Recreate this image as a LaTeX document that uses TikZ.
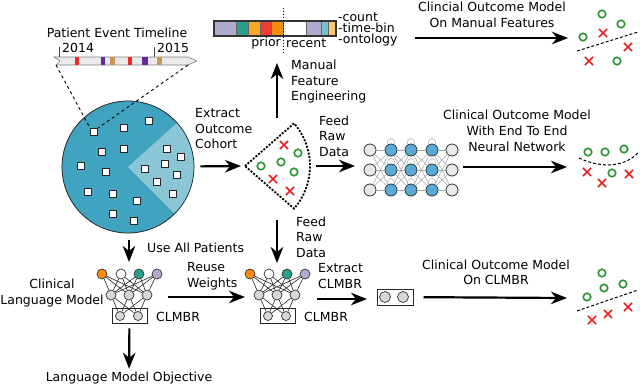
\documentclass[tikz,border=0pt]{standalone}
\usepackage{fontspec}
\setmainfont{DejaVu Sans}
\usepackage{xcolor}
\usetikzlibrary{arrows.meta, positioning, shapes.misc}

\definecolor{popteal}{RGB}{64,164,192}
\definecolor{cohortblue}{RGB}{138,198,214}
\definecolor{tlgray}{RGB}{234,234,234}
\definecolor{evred}{RGB}{240,40,40}
\definecolor{evpurple}{RGB}{100,40,160}
\definecolor{evtan}{RGB}{200,150,90}
\definecolor{fblav}{RGB}{176,170,208}
\definecolor{fbteal}{RGB}{42,160,140}
\definecolor{fbamber}{RGB}{250,170,40}
\definecolor{fbred}{RGB}{240,60,50}
\definecolor{fborange}{RGB}{245,140,20}
\definecolor{fbblue}{RGB}{120,190,205}
\definecolor{fbsand}{RGB}{250,200,110}
\definecolor{nnblue}{RGB}{90,170,215}
\definecolor{nngray}{RGB}{232,232,232}
\definecolor{lmgray}{RGB}{215,215,215}
\definecolor{markgreen}{RGB}{40,150,50}
\definecolor{markred}{RGB}{235,30,30}

\tikzset{
  txt/.style={font=\fontsize{12.5}{15.5}\selectfont, inner sep=0pt, align=left},
  flow/.style={line width=2.2pt, -{Stealth[length=16pt, width=12.5pt, inset=5pt]}},
  patient/.style={draw=black!85, fill=white, line width=1pt, minimum size=7pt, inner sep=0pt},
  goodpt/.style={circle, draw=markgreen, line width=1.6pt, minimum size=7.5pt, inner sep=0pt},
  badpt/.style={cross out, draw=markred, line width=1.6pt, minimum size=6.5pt, inner sep=0pt},
  nnunit/.style={circle, draw=black!80, line width=0.8pt, minimum size=12pt, inner sep=0pt},
  nnedge/.style={gray!70, line width=0.5pt},
  lmunit/.style={circle, draw=black!80, line width=0.7pt, minimum size=10pt, inner sep=0pt},
  lmedge/.style={black!85, line width=0.6pt},
  boundary/.style={dashed, dash pattern=on 3pt off 2pt, line width=1pt}
}

\begin{document}
\begin{tikzpicture}[x=1pt, y=-1pt]
\useasboundingbox (0,0) rectangle (640,386);

% patient event timeline
\node[txt] (tl-title) at (117,33) {Patient Event Timeline};
\draw[gray, fill=tlgray, line width=0.6pt] (54,57) -- (188,57) -- (197,61) -- (188,65) coordinate (tl-se)
  -- (56,65) coordinate (tl-sw) -- (60,61) -- cycle;
\foreach \x/\w/\c in {77/4/evred, 103/4/evpurple, 112/5/evtan, 130/4/evred, 145/6/evpurple, 159/5/evtan}
  \fill[\c] (\x-\w/2,57.4) rectangle (\x+\w/2,64.6);
\draw[gray!60!black, line width=0.8pt] (59,47) -- (59,57) (154,47) -- (154,57);
\node[txt, anchor=west] (y-2014) at (62,48) {2014};
\node[txt, anchor=west] (y-2015) at (157,48) {2015};

% all patients
\node[circle, draw=black!85, line width=0.8pt, fill=popteal, minimum size=132pt, inner sep=0pt] (pop) at (128,167) {};
\fill[cohortblue] (128,167) -- ++(-42:65.4) arc[start angle=-42, end angle=45, radius=65.4] -- cycle;
\foreach \x/\y [count=\i] in {94/132, 124/128, 149/121, 102/152, 124/149, 81/166, 106/172, 88/192,
    113/194, 137/201, 113/214, 134/221, 167/149, 181/157, 165/164, 145/169, 177/175, 157/182, 173/194}
  \node[patient] (sq-\i) at (\x,\y) {};
\draw[dashed, line width=0.9pt] (tl-sw) -- (sq-1.north west);
\draw[dashed, line width=0.9pt] (tl-se) -- (sq-1.north east);

% outcome cohort
\node[txt, anchor=west] (extract-lbl) at (195,129) {Extract\\Outcome\\Cohort};
\coordinate (sel) at (245,166);
\draw[flow, shorten <=6pt, shorten >=4pt] (pop) -- (sel);
\draw[line width=1.8pt, dash pattern=on 2pt off 1.5pt, fill=white] (sel) -- ++(-41:65) arc[start angle=-41, end angle=41, radius=65] -- cycle;
\foreach \x/\y [count=\i] in {261/166, 281/162, 298/153, 294/172}
  \node[goodpt] (sel-good-\i) at (\x,\y) {};
\foreach \x/\y [count=\i] in {284/145, 273/179, 290/191}
  \node[badpt] (sel-bad-\i) at (\x,\y) {};

% manual features
\coordinate (manual-from) at (277,118);
\coordinate (manual-to) at (277,63);
\draw[flow] (manual-from) -- (manual-to);
\node[txt, anchor=west] (manual-lbl) at (291,82) {Manual\\Feature\\Engineering};
\foreach \a/\b/\c in {214/236/fblav, 236/248/fbteal, 248/260/fbamber, 260/271/fbred, 271/283/fborange,
    283/306/white, 306/321/fblav, 321/328/fbblue, 328/336/fbsand}
  \draw[black!60, line width=0.8pt, fill=\c] (\a,21) rectangle (\b,36);
\draw[black!80, line width=1.2pt] (214,21) rectangle (336,36);
\draw[dotted, line width=0.9pt] (283,8) -- (283,53);
\node[txt, anchor=east] (prior) at (281,43) {prior};
\node[txt, anchor=west] (recent) at (286,43) {recent};
\node[txt, anchor=west, font=\fontsize{12.5}{11}\selectfont] (kinds) at (338,29) {-count\\-time-bin\\-ontology};

\coordinate (mf-from) at (415,38);
\coordinate (mf-to) at (568,38);
\draw[flow] (mf-from) -- (mf-to);
\node[txt, align=center] (mf-lbl) at (492,15) {Clincial Outcome Model\\On Manual Features};
\foreach \x/\y [count=\i] in {602/14, 621/24, 583/37, 617/61}
  \node[goodpt] (mf-good-\i) at (\x,\y) {};
\foreach \x/\y [count=\i] in {603/33, 628/47, 589/61}
  \node[badpt] (mf-bad-\i) at (\x,\y) {};
\draw[boundary] (577,51) -- (638,32);

% end to end network
\coordinate (raw-from) at (316,166);
\coordinate (raw-to) at (355,166);
\draw[flow] (raw-from) -- (raw-to);
\node[txt, anchor=west] (raw-lbl) at (319,136) {Feed\\Raw\\Data};
\foreach \c/\x/\f in {1/370/nngray, 2/391/nnblue, 3/411/nnblue, 4/432/nnblue, 5/452/nngray}
  \foreach \r/\y in {1/150, 2/170, 3/190}
    \node[nnunit, fill=\f] (nn-\c-\r) at (\x,\y) {};
\foreach \c [evaluate=\c as \d using int(\c+1)] in {1,...,4}
  \foreach \r in {1,2,3}
    \foreach \s in {1,2,3}
      \draw[nnedge] (nn-\c-\r) -- (nn-\d-\s);
\foreach \c in {2,3,4}
  \foreach \r in {1,2,3}
    \draw[nnedge] (nn-\c-\r.120) .. controls +(-2,-8) and +(2,-8) .. (nn-\c-\r.60);

\coordinate (e2e-from) at (463,167);
\coordinate (e2e-to) at (567,167);
\draw[flow] (e2e-from) -- (e2e-to);
\node[txt, align=center, font=\fontsize{12.5}{16}\selectfont] (e2e-lbl) at (517,131) {Clinical Outcome Model\\With End To End\\Neural Network};
\foreach \x/\y [count=\i] in {588/152, 605/152, 624/149, 612/173}
  \node[goodpt] (e2e-good-\i) at (\x,\y) {};
\foreach \x/\y [count=\i] in {587/172, 602/183, 629/174}
  \node[badpt] (e2e-bad-\i) at (\x,\y) {};
\draw[boundary] (579,158) .. controls (598,167) and (622,169) .. (638,153);

% language models
\foreach \m/\ox in {lm/0, ft/148}{
  \foreach \x/\f [count=\i] in {102/fborange, 121/white, 139/fbteal, 157/fblav}
    \node[lmunit, fill=\f] (\m-top-\i) at (\x+\ox,274) {};
  \foreach \x [count=\i] in {111, 129, 147}
    \node[lmunit, fill=lmgray] (\m-mid-\i) at (\x+\ox,295) {};
  \node[draw=black!85, line width=0.9pt, minimum width=35pt, minimum height=15pt, inner sep=0pt] (\m-box) at (129.5+\ox,315.5) {};
  \foreach \x [count=\i] in {120, 138}
    \node[lmunit, fill=lmgray, minimum size=9pt] (\m-rep-\i) at (\x+\ox,316) {};
  \foreach \i in {1,...,4}
    \foreach \j in {1,2,3}
      \draw[lmedge] (\m-top-\i) -- (\m-mid-\j);
  \foreach \j in {1,2,3}
    \foreach \k in {1,2}
      \draw[lmedge] (\m-mid-\j) -- (\m-rep-\k);
  \node[txt, anchor=west] (\m-clmbr) at (156+\ox,317) {CLMBR};
}
\node[txt, align=center] (lm-lbl) at (52,293) {Clinical\\Language Model};

\coordinate (useall-from) at (129,240);
\coordinate (useall-to) at (129,262);
\draw[flow] (useall-from) -- (useall-to);
\node[txt, anchor=west] (useall-lbl) at (147,248) {Use All Patients};

\node[txt] (lm-obj) at (129,378) {Language Model Objective};
\draw[flow, shorten <=5pt, shorten >=3pt] (lm-box) -- (lm-obj);

\coordinate (reuse-from) at (168,297);
\coordinate (reuse-to) at (245,297);
\draw[flow] (reuse-from) -- (reuse-to);
\node[txt, anchor=west] (reuse-lbl) at (187,276) {Reuse\\Weights};

\coordinate (feed-from) at (277,220);
\coordinate (feed-to) at (277,263);
\draw[flow] (feed-from) -- (feed-to);
\node[txt, anchor=west] (feed-lbl) at (296,237) {Feed\\Raw\\Data};

% clmbr features
\coordinate (xclmbr-from) at (317,299);
\draw[flow] (xclmbr-from) -- ++(50,0) coordinate (xclmbr-to);
\node[txt, anchor=west] (xclmbr-lbl) at (318,276) {Extract\\CLMBR};
\node[draw=black!85, line width=1pt, minimum width=36pt, minimum height=16pt, inner sep=0pt] (emb) at (395,297) {};
\node[lmunit, fill=lmgray, minimum size=11pt] (emb-1) at (385,297) {};
\node[lmunit, fill=lmgray, minimum size=11pt] (emb-2) at (403,297) {};

\coordinate (clmbr-to) at (567,298);
\draw[flow, shorten <=10pt] (emb) -- (clmbr-to);
\node[txt, align=center] (clmbr-lbl) at (496,272.5) {Clinical Outcome Model\\On CLMBR};
\foreach \x/\y [count=\i] in {602/273, 604/288, 623/284, 587/297}
  \node[goodpt] (clmbr-good-\i) at (\x,\y) {};
\foreach \x/\y [count=\i] in {592/320, 608/314, 628/307}
  \node[badpt] (clmbr-bad-\i) at (\x,\y) {};
\draw[boundary] (577,311) -- (638,290);
\end{tikzpicture}
\end{document}
